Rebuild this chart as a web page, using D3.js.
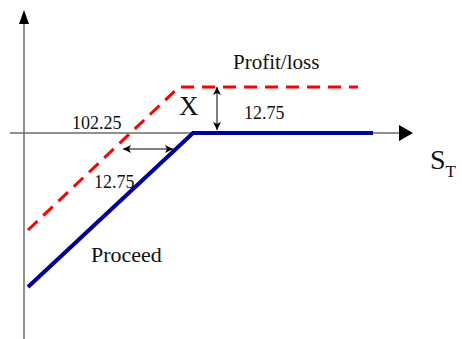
<!DOCTYPE html>
<html>
<head>
<meta charset="utf-8">
<script src="https://cdn.jsdelivr.net/npm/d3@7"></script>
<style>
  html, body { margin: 0; padding: 0; background: #fff; }
  svg { display: block; }
  text { font-family: "Liberation Serif", "Times New Roman", serif; fill: #111; }
</style>
</head>
<body>
<svg id="chart" width="462" height="339"></svg>
<script>
// Payoff diagram: proceeds and profit/loss against terminal stock price S_T.
// Units are abstract diagram units, with the axes crossing at (0, 0).
const sT        = [4, 169, 349];
const proceed   = [-154, 0, 0];
const sTProfit  = [4, 155, 334];
const profit    = [-97, 46, 46];

const labels = {
  profit: "Profit/loss",
  proceed: "Proceed",
  strike: "X",
  breakeven: "102.25",
  gap: "12.75",
  axis: "S",
  axisSub: "T"
};

const W = 462, H = 339;
const svg = d3.select("#chart");

const x = d3.scaleLinear().domain([-14, 389]).range([10, 413]);
const y = d3.scaleLinear().domain([-206, 123]).range([339, 10]);

const line = d3.line().x(d => x(d[0])).y(d => y(d[1]));

// small arrowhead marker for dimension arrows
const defs = svg.append("defs");
defs.append("marker")
  .attr("id", "tip")
  .attr("viewBox", "0 0 10 10")
  .attr("refX", 10).attr("refY", 5)
  .attr("markerUnits", "userSpaceOnUse")
  .attr("markerWidth", 8).attr("markerHeight", 8)
  .attr("orient", "auto-start-reverse")
  .append("path")
  .attr("d", "M0,0 L10,5 L0,10 L2.5,5 Z")
  .attr("fill", "#000");

// axes
const axisColor = "#6b6b6b";
svg.append("line")
  .attr("x1", x(-14)).attr("x2", x(376))
  .attr("y1", y(0)).attr("y2", y(0))
  .attr("stroke", axisColor).attr("stroke-width", 1.5);
svg.append("path")
  .attr("d", `M${x(389)},${y(0)} L${x(375)},${y(0) - 8} L${x(375)},${y(0) + 8} Z`)
  .attr("fill", "#000");

svg.append("line")
  .attr("x1", x(0)).attr("x2", x(0))
  .attr("y1", y(-206)).attr("y2", y(110))
  .attr("stroke", axisColor).attr("stroke-width", 1.5);
svg.append("path")
  .attr("d", `M${x(0)},${y(123)} L${x(0) - 5},${y(109)} L${x(0) + 5},${y(109)} Z`)
  .attr("fill", "#000");

// profit/loss (dashed red)
svg.append("path")
  .datum(sTProfit.map((v, i) => [v, profit[i]]))
  .attr("d", line)
  .attr("fill", "none")
  .attr("stroke", "#ff0000")
  .attr("stroke-width", 3)
  .attr("stroke-dasharray", "13 8");

// proceeds (solid navy)
svg.append("path")
  .datum(sT.map((v, i) => [v, proceed[i]]))
  .attr("d", line)
  .attr("fill", "none")
  .attr("stroke", "#00009c")
  .attr("stroke-width", 4);

// vertical dimension arrow between the two flat segments
svg.append("line")
  .attr("x1", x(193)).attr("x2", x(193))
  .attr("y1", y(46)).attr("y2", y(3))
  .attr("stroke", "#000").attr("stroke-width", 1)
  .attr("marker-start", "url(#tip)")
  .attr("marker-end", "url(#tip)");

// horizontal dimension arrow between the two sloped segments
svg.append("line")
  .attr("x1", x(99)).attr("x2", x(149))
  .attr("y1", y(-16)).attr("y2", y(-16))
  .attr("stroke", "#000").attr("stroke-width", 1)
  .attr("marker-start", "url(#tip)")
  .attr("marker-end", "url(#tip)");

// text labels
function label(t, px, py, size) {
  return svg.append("text")
    .attr("x", x(px)).attr("y", y(py))
    .attr("font-size", size)
    .text(t);
}
label(labels.profit, 209, 64, 21);
label(labels.strike, 155, 18, 27);
label(labels.gap, 220, 14, 18);
label(labels.breakeven, 48, 4, 18);
label(labels.gap, 70, -55, 18);
label(labels.proceed, 67, -129, 22);

const st = svg.append("text")
  .attr("x", x(406)).attr("y", y(-36))
  .attr("font-size", 28);
st.append("tspan").text(labels.axis);
st.append("tspan").attr("font-size", 17).attr("dy", 8).text(labels.axisSub);
</script>
</body>
</html>
